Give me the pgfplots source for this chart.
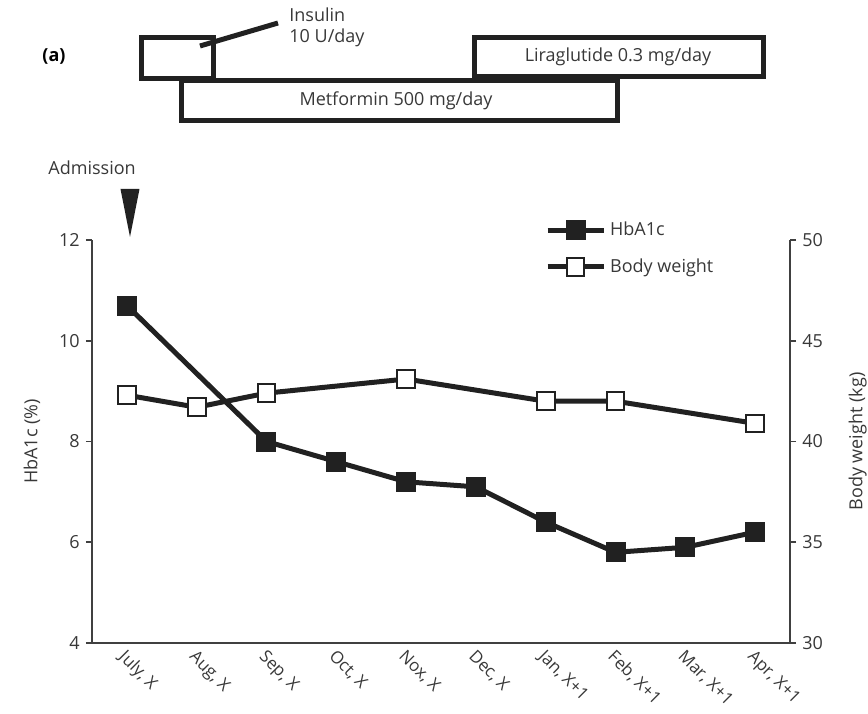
\documentclass[border=0pt]{standalone}
\usepackage{fontspec}
\setmainfont{Open Sans}
\usepackage{pgfplots}
\pgfplotsset{compat=1.18}
\definecolor{ink}{gray}{0.13}
\definecolor{txt}{gray}{0.22}
\begin{document}
\fontsize{9}{11}\selectfont
\begin{tikzpicture}
\path[use as bounding box] (-46pt,-35pt) rectangle (388pt,321.5pt);
\pgfplotsset{
  common/.style={
    scale only axis, width=349pt, height=201.5pt,
    xmin=-0.5, xmax=9.5,
    clip=false,
    /pgf/number format/assume math mode=true,
    axis line style={line width=0.9pt, draw=black!75},
    tick style={line width=0.9pt, draw=black!75},
    tick align=outside, major tick length=3pt,
    every tick label/.append style={text=txt},
  },
  hba/.style={line width=2.5pt, ink, mark=square*, mark size=4.75pt,
    mark options={solid, fill=ink, draw=ink, line width=0.5pt}},
  bw/.style={line width=2.5pt, ink, mark=square*, mark size=4.4pt,
    mark options={solid, fill=white, draw=ink, line width=1pt}},
}
\begin{axis}[common,
  ymin=4, ymax=12, ytick={4,6,8,10,12},
  axis x line*=bottom, axis y line*=left,
  xtick={0,...,9},
  xticklabels={{July, X},{Aug, X},{Sep, X},{Oct, X},{Nox, X},{Dec, X},{Jan, X+1},{Feb, X+1},{Mar, X+1},{Apr, X+1}},
  x tick label style={rotate=-45, anchor=north west, inner sep=1pt, font=\fontsize{8.5}{10}\selectfont, xshift=-1pt, yshift=1.5pt},
  xtick style={draw=none},
  every axis y label/.style={at={(axis description cs:-0.086,0.5)}, rotate=90, anchor=center, text=txt},
  ylabel={HbA1c (\%)},
]
\addplot[hba] coordinates {(0,10.7)(2,8.0)(3,7.6)(4,7.2)(5,7.1)(6,6.4)(7,5.8)(8,5.9)(9,6.2)};
\end{axis}
\begin{axis}[common,
  ymin=30, ymax=50, ytick={30,35,40,45,50},
  axis y line*=right, axis x line=none,
  xtick=\empty,
  every axis y label/.style={at={(axis description cs:1.097,0.5)}, rotate=90, anchor=center, text=txt},
  ylabel={Body weight (kg)},
  legend cell align=left,
  legend style={at={(axis description cs:0.640,1.065)}, anchor=north west, draw=none, fill=none, row sep=6pt, text=txt},
  legend image code/.code={\draw[mark repeat=2,mark phase=2,#1] plot coordinates {(0pt,0pt)(14pt,0pt)(28pt,0pt)};},
]
\addlegendimage{hba}
\addlegendentry{HbA1c}
\addplot[bw] coordinates {(0,42.3)(1,41.7)(2,42.4)(4,43.1)(6,42.0)(7,42.0)(9,40.9)};
\addlegendentry{Body weight}
\end{axis}
% treatment timeline
\draw[line width=2.5pt, ink] (24.75pt,282.25pt) rectangle (60.75pt,302.75pt);
\draw[line width=2.5pt, ink] (44.75pt,261.25pt) rectangle (262.75pt,281pt);
\draw[line width=2.5pt, ink] (191.25pt,283pt) rectangle (335.75pt,302.75pt);
\draw[line width=2.5pt, ink] (54pt,298.5pt) -- (93pt,310pt);
\node[anchor=west, text=txt, inner sep=0pt] at (98.5pt,314pt) {Insulin};
\node[anchor=west, text=txt, inner sep=0pt] at (98.5pt,302.5pt) {10 U/day};
\node[text=txt] at (263pt,293pt) {Liraglutide 0.3 mg/day};
\node[text=txt] at (152pt,271pt) {Metformin 500 mg/day};
\node[font=\bfseries, text=black] at (-19pt,293pt) {(a)};
\node[anchor=west, text=txt, inner sep=0pt] at (-22pt,237.5pt) {Admission};
\fill[ink] (14.25pt,227pt) -- (23.75pt,227pt) -- (19pt,203pt) -- cycle;
\end{tikzpicture}
\end{document}
